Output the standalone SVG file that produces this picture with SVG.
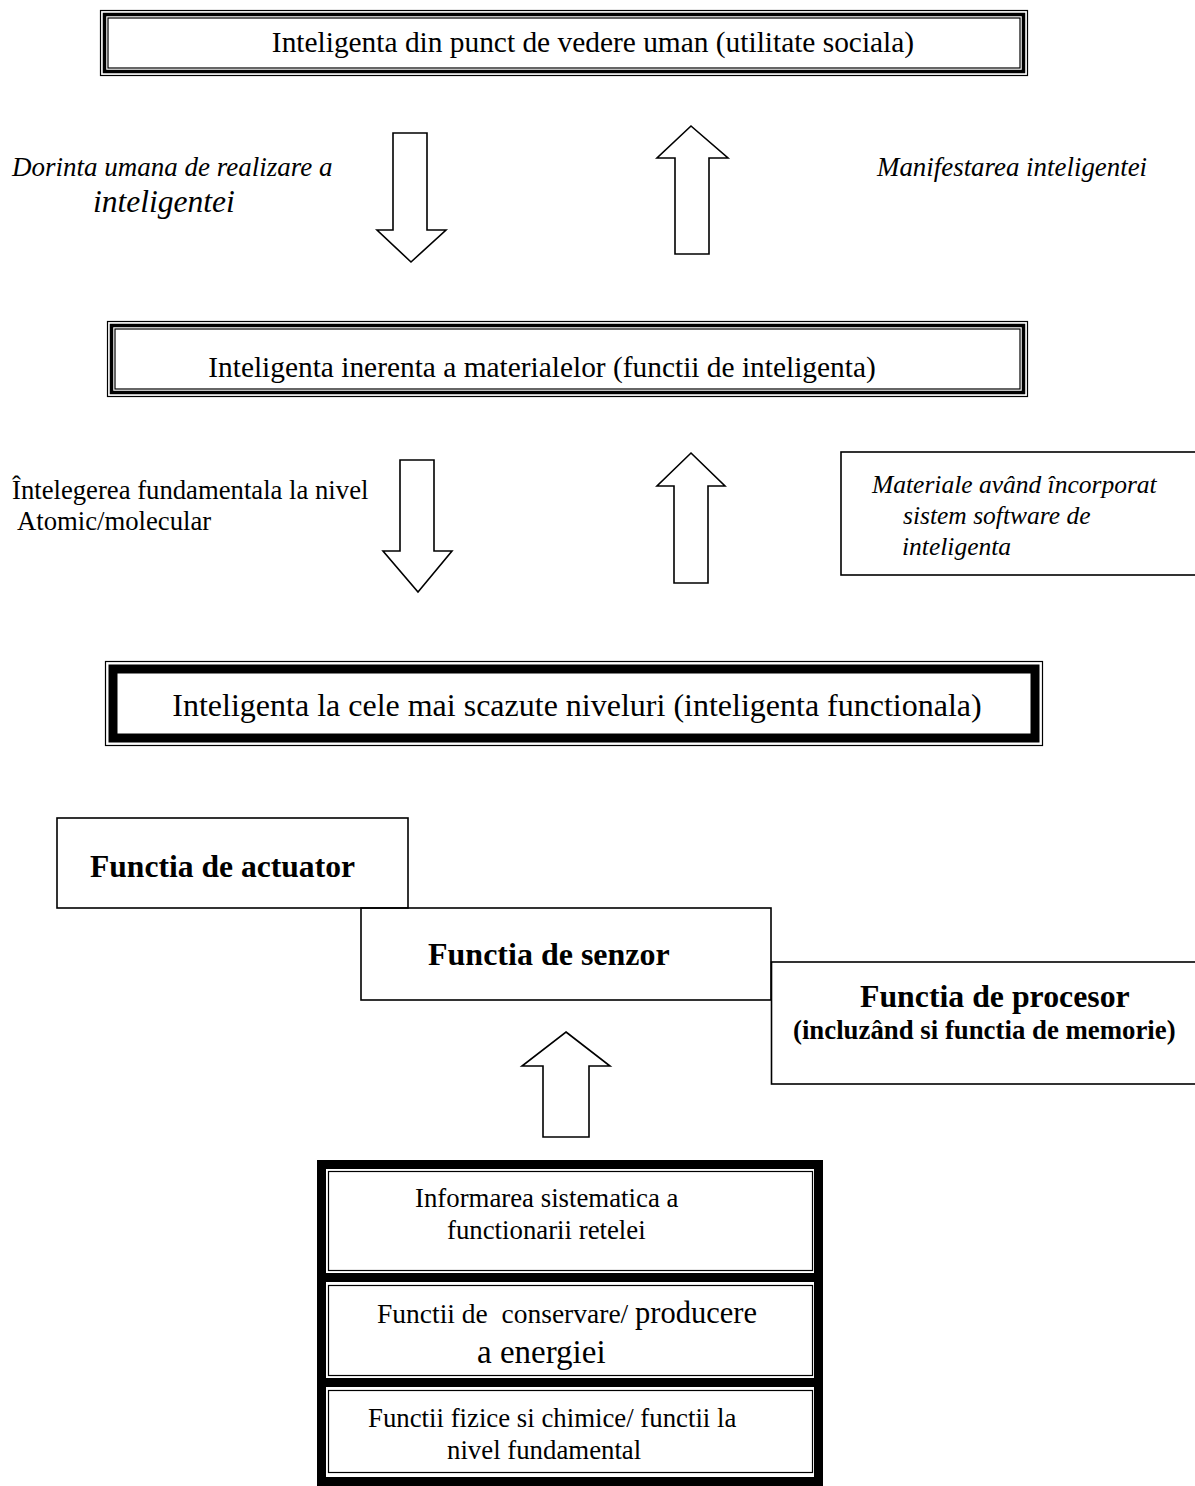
<svg xmlns="http://www.w3.org/2000/svg" width="1195" height="1486" viewBox="0 0 1195 1486">
<style>
  text { font-family: "Liberation Serif", "Times New Roman", serif; fill: #000; }
  .it { font-style: italic; }
  .b { font-weight: bold; }
  .thin { fill: none; stroke: #000; stroke-width: 1.2; }
  .mid { fill: none; stroke: #000; stroke-width: 3.5; }
  .thick { fill: none; stroke: #000; stroke-width: 9; }
  .box { fill: none; stroke: #000; stroke-width: 1.6; }
  .arrow { fill: #fff; stroke: #000; stroke-width: 1.6; stroke-linejoin: miter; }
</style>
<rect x="0" y="0" width="1195" height="1486" fill="#fff"/>

<g id="node-uman">
  <rect class="thin" x="100.5" y="10.5" width="927" height="65"/>
  <rect class="mid" x="104.5" y="14.5" width="919" height="57"/>
  <rect class="thin" x="108" y="18" width="912" height="50"/>
  <text x="593" y="51.5" font-size="29.4" text-anchor="middle">Inteligenta din punct de vedere uman (utilitate sociala)</text>
</g>

<g id="label-dorinta">
  <text class="it" x="12" y="176" font-size="27">Dorinta umana de realizare a</text>
  <text class="it" x="93" y="212" font-size="31.5">inteligentei</text>
</g>
<g id="label-manifestarea">
  <text class="it" x="877" y="176" font-size="26.9">Manifestarea inteligentei</text>
</g>

<g id="node-materiale">
  <rect class="thin" x="107.5" y="321.5" width="920" height="75"/>
  <rect class="mid" x="111.5" y="325.5" width="912" height="67"/>
  <rect class="thin" x="115" y="329" width="905" height="60"/>
  <text x="542" y="377" font-size="29.4" text-anchor="middle">Inteligenta inerenta a materialelor (functii de inteligenta)</text>
</g>

<g id="label-intelegerea">
  <text x="12" y="499" font-size="26.7">Întelegerea fundamentala la nivel</text>
  <text x="17" y="530" font-size="26.7">Atomic/molecular</text>
</g>

<g id="node-software">
  <rect class="box" x="841" y="452" width="370" height="123"/>
  <text class="it" x="872" y="493" font-size="25.5">Materiale având încorporat</text>
  <text class="it" x="903" y="524" font-size="25.5">sistem software de</text>
  <text class="it" x="902" y="555" font-size="25.5">inteligenta</text>
</g>

<g id="node-functionala">
  <rect class="thin" x="105.5" y="661.5" width="937" height="84"/>
  <rect class="thick" x="113" y="669" width="922" height="69"/>
  <text x="577" y="716" font-size="32" text-anchor="middle">Inteligenta la cele mai scazute niveluri (inteligenta functionala)</text>
</g>

<g id="node-actuator">
  <rect class="box" x="57" y="818" width="351" height="90"/>
  <text class="b" x="90" y="877" font-size="31.6">Functia de actuator</text>
</g>

<g id="node-senzor">
  <rect class="box" x="361" y="908" width="410" height="92"/>
  <text class="b" x="428" y="965" font-size="32">Functia de senzor</text>
</g>

<g id="node-procesor">
  <rect class="box" x="771.5" y="962" width="440" height="122"/>
  <text class="b" x="860" y="1007" font-size="31.8">Functia de procesor</text>
  <text class="b" x="793" y="1039" font-size="26.8">(incluzând si functia de memorie)</text>
</g>

<g id="node-stack">
  <rect class="thick" x="321.5" y="1164.5" width="497" height="317"/>
  <line x1="321" y1="1277.5" x2="819" y2="1277.5" stroke="#000" stroke-width="9"/>
  <line x1="321" y1="1382.5" x2="819" y2="1382.5" stroke="#000" stroke-width="9"/>
  <rect class="thin" x="328.5" y="1171.5" width="484" height="99"/>
  <rect class="thin" x="328.5" y="1285.5" width="484" height="90"/>
  <rect class="thin" x="328.5" y="1390.5" width="484" height="82"/>
  <text x="415" y="1207" font-size="26.8">Informarea sistematica a</text>
  <text x="447" y="1239" font-size="26.8">functionarii retelei</text>
  <text x="377" y="1323" font-size="27.5" xml:space="preserve">Functii de  conservare/ <tspan font-size="30.5">producere</tspan></text>
  <text x="477" y="1363" font-size="33">a energiei</text>
  <text x="368" y="1427" font-size="26.8">Functii fizice si chimice/ functii la</text>
  <text x="447" y="1459" font-size="26.8">nivel fundamental</text>
</g>

<g id="connectors">
  <polygon class="arrow" points="393,133 427,133 427,230 446,230 411,262 377,230 393,230"/>
  <polygon class="arrow" points="691,126 728,158 709,158 709,254 675,254 675,158 657,158"/>
  <polygon class="arrow" points="400,460 434,460 434,551 452,551 418,592 383,551 400,551"/>
  <polygon class="arrow" points="691,453 725,486 708,486 708,583 674,583 674,486 657,486"/>
  <polygon class="arrow" points="566,1032 610,1066 589,1066 589,1137 543,1137 543,1066 522,1066"/>
</g>
</svg>
